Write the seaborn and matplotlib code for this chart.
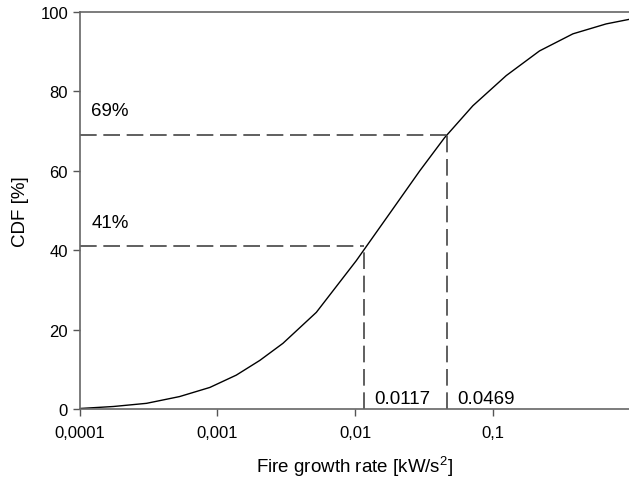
import matplotlib
matplotlib.use("Agg")
import matplotlib.pyplot as plt
import pandas as pd
import seaborn as sns

# values
growth_rate = [0.0001, 0.000175, 0.000305, 0.00053, 0.00088, 0.00137, 0.00203,
               0.00299, 0.00523, 0.0102, 0.0188, 0.0295, 0.0448,
               0.0718, 0.1256, 0.219, 0.383, 0.668, 1.0]
cdf = [0.2, 0.7, 1.5, 3.2, 5.5, 8.6, 12.3,
       16.6, 24.4, 37.4, 50.4, 60.0, 68.4,
       76.4, 84.0, 90.2, 94.5, 97.0, 98.2]

marked_rate = [0.0117, 0.0469]
marked_cdf = [41, 69]
marked_rate_labels = ["0.0117", "0.0469"]
marked_cdf_labels = ["41%", "69%"]

xticks = [0.0001, 0.001, 0.01, 0.1]
xtick_labels = ["0,0001", "0,001", "0,01", "0,1"]
yticks = [0, 20, 40, 60, 80, 100]

sns.set_style("ticks")
plt.rcParams["font.family"] = ["Liberation Sans", "DejaVu Sans"]
plt.rcParams["mathtext.fontset"] = "custom"
plt.rcParams["mathtext.rm"] = "Liberation Sans"
plt.rcParams["text.color"] = "black"
plt.rcParams["axes.labelcolor"] = "black"
plt.rcParams["xtick.color"] = "black"
plt.rcParams["ytick.color"] = "black"

df = pd.DataFrame({"rate": growth_rate, "cdf": cdf})

fig = plt.figure(figsize=(6.29, 4.81), dpi=100)
ax = fig.add_axes([0.127, 0.147, 0.875, 0.826])

sns.lineplot(data=df, x="rate", y="cdf", color="black", linewidth=1.0, ax=ax)
ax.set_xscale("log")
ax.set_xlim(0.0001, 1)
ax.set_ylim(0, 100)

dash_col = "#444444"
for r, c, rl, cl in zip(marked_rate, marked_cdf, marked_rate_labels, marked_cdf_labels):
    ax.plot([0.0001, r], [c, c], color=dash_col, lw=1.2, dashes=(10, 4))
    ax.plot([r, r], [0, c], color=dash_col, lw=1.2, dashes=(10, 4))
    ax.text(0.000121, c + 4.0, cl, fontsize=13.5, ha="left", va="bottom")
    ax.text(r * 1.17, 0.7, rl, fontsize=13.5, ha="left", va="bottom")

ax.set_xticks(xticks)
ax.set_xticklabels(xtick_labels)
ax.minorticks_off()
ax.set_yticks(yticks)
ax.tick_params(labelsize=12, length=5, width=1, color="#555555", direction="out")
ax.tick_params(axis="x", pad=6)
for s in ax.spines.values():
    s.set_color("#666666")
    s.set_linewidth(1.2)
ax.spines["right"].set_visible(False)

ax.set_xlabel("Fire growth rate [kW/s$^2$]", fontsize=13.5, labelpad=10)
ax.set_ylabel("CDF [%]", fontsize=13.5, labelpad=8)

fig.savefig("out.png", dpi=100)
